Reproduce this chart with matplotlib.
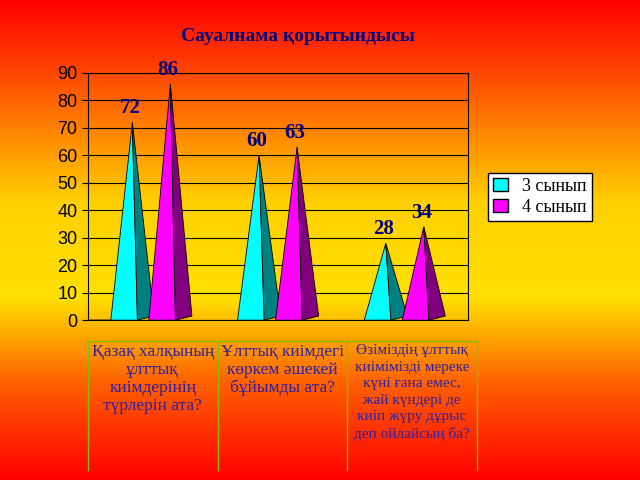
import numpy as np
import matplotlib.pyplot as plt
from matplotlib.colors import LinearSegmentedColormap
from matplotlib.patches import Polygon

categories = ["Қазақ халқының\nұлттық\nкиімдерінің\nтүрлерін ата?",
              "Ұлттық киімдегі\nкөркем әшекей\nбұйымды ата?",
              "Өзіміздің ұлттық\nкиімімізді мереке\nкүні ғана емес,\nжай күндері де\nкиіп жүру дұрыс\nдеп ойлайсың ба?"]
series_names = ["3 сынып", "4 сынып"]
class3 = [72, 60, 28]
class4 = [86, 63, 34]

plt.rcParams['font.family'] = ['Liberation Serif', 'DejaVu Serif']
fig = plt.figure(figsize=(6.4, 4.8), dpi=100)

# background gradient red -> yellow -> red
bg = fig.add_axes([0, 0, 1, 1])
cmap = LinearSegmentedColormap.from_list("bg", [(0, "#ff0000"), (0.2, "#ff6000"), (0.42, "#ffd000"),
                                                (0.62, "#ffe000"), (0.8, "#ff6000"), (1, "#ff0000")])
bg.imshow(np.linspace(0, 1, 256).reshape(-1, 1), aspect="auto", cmap=cmap, extent=[0, 1, 0, 1], origin="upper")
bg.set_axis_off()

fig.text(0.465, 0.923, "Сауалнама қорытындысы", ha="center", va="center",
         fontsize=14, fontweight="bold", color="#000080")

ax = fig.add_axes([0.1375, 0.333, 0.594, 0.515])
ax.set_facecolor("none")
ax.set_xlim(0, 3)
ax.set_ylim(0, 90)
ax.set_yticks(range(0, 91, 10))
ax.tick_params(axis="y", labelsize=13, length=4)
for t in ax.get_yticklabels():
    t.set_family(['Liberation Sans', 'DejaVu Sans'])
ax.set_xticks([])
ax.set_axisbelow(True)
ax.grid(axis="y", color="black", linewidth=0.8, zorder=0)
for s in ax.spines.values():
    s.set_color("black")

colors = [("#00ffff", "#008080"), ("#ff00ff", "#800080")]
hw = 0.17
for i, (a, b) in enumerate(zip(class3, class4)):
    c = i + 0.5
    for off, v, (fc, sc) in [(-0.15, a, colors[0]), (0.15, b, colors[1])]:
        x = c + off
        ax.add_patch(Polygon([(x - hw, 0), (x, v), (x + 0.04, 0)], closed=True, facecolor=fc, edgecolor="black", lw=0.6, zorder=3))
        ax.add_patch(Polygon([(x + 0.04, 0), (x, v), (x + hw, 1.5)], closed=True, facecolor=sc, edgecolor="black", lw=0.6, zorder=3))
        ax.text(x - 0.02, v + 1.5, str(v), ha="center", va="bottom", fontsize=15, fontweight="bold", color="#000080", zorder=4)

ax.bar([0], [0], color=colors[0][0], edgecolor="black", label=series_names[0])
ax.bar([0], [0], color=colors[1][0], edgecolor="black", label=series_names[1])
fig.legend(loc="center left", bbox_to_anchor=(0.748, 0.59), fontsize=13, fancybox=False,
           edgecolor="black", framealpha=1, handlelength=0.8, borderpad=0.3, labelspacing=0.2)

# category table below the chart
tx = [0.1375, 0.34, 0.5425, 0.745]
for xl in tx:
    fig.add_artist(plt.Line2D([xl, xl], [0.02, 0.29], color="#80c000", lw=1))
fig.add_artist(plt.Line2D([tx[0], tx[-1]], [0.29, 0.29], color="#80c000", lw=1))
for i, lab in enumerate(categories):
    fig.text((tx[i] + tx[i + 1]) / 2, 0.283, lab, ha="center", va="top", fontsize=12.5 if i < 2 else 11,
             color="#3020a0", linespacing=1.15 if i < 2 else 1.35)

fig.savefig("out.png", dpi=100)
